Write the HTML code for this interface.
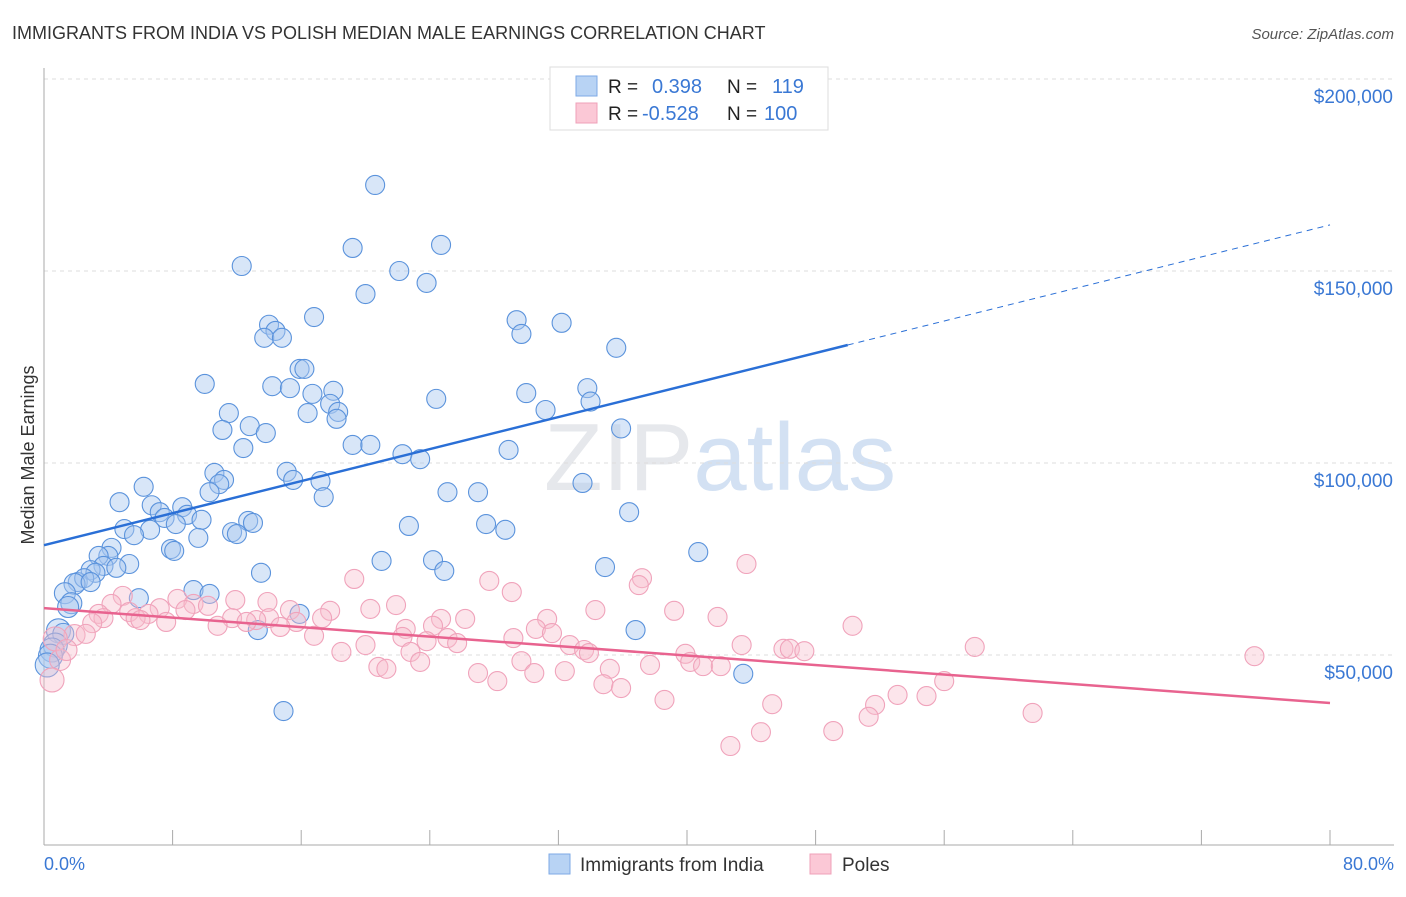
<!DOCTYPE html>
<html><head><meta charset="utf-8"><style>
body{margin:0;background:#fff;font-family:"Liberation Sans",sans-serif;}
svg text{font-family:"Liberation Sans",sans-serif;}
</style></head><body>
<svg id="chart" width="1406" height="892" xmlns="http://www.w3.org/2000/svg">
<text x="12" y="39" font-size="18" fill="#333">IMMIGRANTS FROM INDIA VS POLISH MEDIAN MALE EARNINGS CORRELATION CHART</text>
<text x="1394" y="39" font-size="15" fill="#555" text-anchor="end" font-style="italic">Source: ZipAtlas.com</text>
<text x="720" y="490" font-size="96" fill="#e6e8ec" text-anchor="middle" font-family="Liberation Serif">ZIP<tspan fill="#d3e1f3" font-family="Liberation Sans">atlas</tspan></text>
<g id="grid"></g><g id="axes"></g><g id="pts"></g><g id="trend"></g>
<text x="34" y="455" font-size="18" fill="#333" text-anchor="middle" transform="rotate(-90 34 455)">Median Male Earnings</text>
<g>
<rect x="550" y="67" width="278" height="63" fill="#fff" stroke="#ddd"/>
<rect x="576" y="76" width="21" height="20" fill="#b8d3f4" stroke="#7eaae6"/>
<rect x="576" y="103" width="21" height="20" fill="#fbc8d6" stroke="#efa0b8"/>
<text x="608" y="93" font-size="19" fill="#222">R = </text><text x="652" y="93" font-size="20" fill="#3a78d4">0.398</text>
<text x="727" y="93" font-size="19" fill="#222">N = </text><text x="772" y="93" font-size="20" fill="#3a78d4">119</text>
<text x="608" y="120" font-size="19" fill="#222">R = </text><text x="642" y="120" font-size="20" fill="#3a78d4">-0.528</text>
<text x="727" y="120" font-size="19" fill="#222">N = </text><text x="764" y="120" font-size="20" fill="#3a78d4">100</text>
</g>
<g>
<rect x="549" y="854" width="21" height="20" fill="#b8d3f4" stroke="#7eaae6"/>
<text x="580" y="871" font-size="19" fill="#333">Immigrants from India</text>
<rect x="810" y="854" width="21" height="20" fill="#fbc8d6" stroke="#efa0b8"/>
<text x="842" y="871" font-size="19" fill="#333">Poles</text>
</g>
<text x="44" y="870" font-size="18" fill="#3a78d4">0.0%</text>
<text x="1394" y="870" font-size="18" fill="#3a78d4" text-anchor="end">80.0%</text>
</svg>
<script>
const yTicks=[50,100,150,200];
const yTickLabels=["$50,000","$100,000","$150,000","$200,000"];
const xTicks=[0,8,16,24,32,40,48,56,64,72,80];
const india=[[20.6,172.4],[19.2,156],[24.7,156.8],[12.3,151.3],[22.1,150],[23.8,146.9],[20,144],[16.8,138],[14,136],[14.4,134.4],[13.7,132.6],[14.8,132.6],[29.4,137.2],[32.2,136.5],[29.7,133.6],[35.6,130],[15.9,124.5],[16.2,124.5],[10,120.6],[14.2,120],[15.3,119.5],[33.8,119.5],[16.7,118],[18,118.8],[30,118.2],[24.4,116.7],[34,116],[17.8,115.4],[31.2,113.8],[11.5,113],[16.4,113],[18.3,113.3],[18.2,111.5],[12.8,109.6],[11.1,108.6],[35.9,109],[13.8,107.8],[19.2,104.7],[20.3,104.7],[12.4,103.9],[28.9,103.4],[22.3,102.3],[23.4,101],[15.1,97.7],[10.6,97.4],[15.5,95.6],[17.2,95.3],[11.2,95.6],[10.9,94.5],[33.5,94.8],[10.3,92.4],[25.1,92.4],[27,92.4],[17.4,91.1],[6.2,93.8],[4.7,89.8],[6.7,89],[8.6,88.5],[7.2,87.2],[8.9,86.5],[36.4,87.2],[7.5,85.7],[9.8,85.2],[27.5,84.1],[22.7,83.6],[12.7,84.9],[13,84.4],[5,82.8],[8.2,84.1],[28.7,82.6],[6.6,82.6],[11.7,82],[12,81.5],[5.6,81.2],[9.6,80.5],[7.9,77.6],[8.1,77.1],[4.2,77.9],[40.7,76.8],[4,75.8],[3.4,75.8],[21,74.5],[24.2,74.7],[5.3,73.7],[3.7,73.2],[4.5,72.7],[34.9,72.9],[2.9,72.1],[24.9,71.9],[3.2,71.4],[13.5,71.4],[2.1,69],[2.5,70],[1.9,68.5],[2.9,69],[9.3,66.9],[10.3,65.9],[1.3,66.1],[5.9,64.8],[1.7,63.5],[1.5,62.5],[15.9,60.7],[36.8,56.5],[13.3,56.5],[0.9,56.3],[1.2,55.5],[0.7,52.6],[0.5,51.3],[0.4,49.7],[0.2,47.4],[43.5,45.1],[14.9,35.4]];
const poles=[[19.3,69.8],[27.7,69.3],[37.2,70],[43.7,73.7],[37,68.2],[29.1,66.4],[4.9,65.4],[8.3,64.6],[11.9,64.3],[13.9,63.8],[9.3,63.3],[10.2,62.8],[4.2,63.3],[21.9,63],[20.3,62],[34.3,61.7],[39.2,61.5],[7.2,62.2],[8.8,61.7],[15.3,61.7],[17.8,61.5],[3.4,60.7],[5.3,61.2],[6.5,60.7],[5.7,59.6],[41.9,59.9],[3.7,59.6],[14,59.6],[13.2,59.1],[11.7,59.6],[17.3,59.6],[24.7,59.4],[6,59.1],[7.6,58.6],[26.2,59.4],[31.3,59.4],[15.7,58.6],[12.6,58.6],[3,58.3],[10.8,57.6],[24.2,57.6],[50.3,57.6],[30.6,56.8],[22.5,56.8],[16.8,55],[14.7,57.3],[31.6,55.7],[1.9,55.2],[2.6,55.5],[22.3,54.7],[29.2,54.4],[25.1,54.4],[23.8,53.6],[20,52.6],[25.7,53.1],[32.7,52.6],[43.4,52.6],[57.9,52.1],[33.6,51.3],[46,51.6],[46.4,51.6],[47.3,51],[33.9,50.5],[18.5,50.8],[22.8,50.8],[39.9,50.3],[75.3,49.7],[29.7,48.4],[40.2,48.2],[23.4,48.2],[37.7,47.4],[41,47.1],[42.1,47.1],[20.8,46.9],[21.3,46.4],[35.2,46.4],[27,45.3],[30.5,45.3],[32.4,45.8],[28.2,43.2],[56,43.2],[34.8,42.4],[35.9,41.4],[53.1,39.6],[54.9,39.3],[38.6,38.3],[45.3,37.2],[51.7,37],[51.3,33.9],[61.5,34.9],[44.6,29.9],[49.1,30.2],[42.7,26.3],[1,48.7],[0.5,43.5],[0.7,54.2],[1.4,51.3]];
const indiaTrend=[78.6,162];
const polesTrend=[62.2,37.5];
const indiaSolidEnd=50;
const X=v=>44+v/80*1286, Y=v=>847-v*3.84;
const NS="http://www.w3.org/2000/svg";
function mk(tag,attrs,parent){const e=document.createElementNS(NS,tag);for(const k in attrs)e.setAttribute(k,attrs[k]);parent.appendChild(e);return e;}
const grid=document.getElementById('grid'),axes=document.getElementById('axes'),pts=document.getElementById('pts'),tr=document.getElementById('trend');
let g=mk('line',{x1:44,x2:1394,y1:79,y2:79,stroke:'#ddd','stroke-dasharray':'4 4'},grid);


yTicks.forEach((t,i)=>{
 const l=mk('line',{x1:44,x2:1394,y1:Y(t),y2:Y(t),stroke:'#ddd','stroke-dasharray':'4 4'},grid);
 
 
 const tx=mk('text',{x:1393,y:Y(t)+24,'font-size':19,fill:'#3a78d4','text-anchor':'end'},grid);
 tx.textContent=yTickLabels[i];
 
 
});
const ya=mk('line',{x1:44,x2:44,y1:68,y2:845,stroke:'#aaa'},axes);


const xa=mk('line',{x1:44,x2:1394,y1:845,y2:845,stroke:'#aaa'},axes);


xTicks.forEach(t=>{
 const l=mk('line',{x1:X(t),x2:X(t),y1:830,y2:845,stroke:'#aaa'},axes);
 
 
});
function r(p){return p[0]<1.0?12:(p[0]<2?10.5:9.5);}
india.forEach(p=>{
 const c=mk('circle',{cx:X(p[0]),cy:Y(p[1]),r:r(p),fill:'rgba(168,200,240,0.45)',stroke:'#5b93dc','stroke-width':1.1},pts);
 
 
});
poles.forEach(p=>{
 const c=mk('circle',{cx:X(p[0]),cy:Y(p[1]),r:r(p),fill:'rgba(248,190,206,0.4)',stroke:'#f0a3bb','stroke-width':1.1},pts);
 
 
});
const iy=x=>indiaTrend[0]+(indiaTrend[1]-indiaTrend[0])*x/80;
let t1=mk('line',{x1:X(0),y1:Y(iy(0)),x2:X(indiaSolidEnd),y2:Y(iy(indiaSolidEnd)),stroke:'#2a6fd6','stroke-width':2.5},tr);


let t2=mk('line',{x1:X(indiaSolidEnd),y1:Y(iy(indiaSolidEnd)),x2:X(80),y2:Y(iy(80)),stroke:'#2a6fd6','stroke-width':1,'stroke-dasharray':'6 5'},tr);


let t3=mk('line',{x1:X(0),y1:Y(polesTrend[0]),x2:X(80),y2:Y(polesTrend[1]),stroke:'#e8638f','stroke-width':2.5},tr);


</script>
</body></html>
